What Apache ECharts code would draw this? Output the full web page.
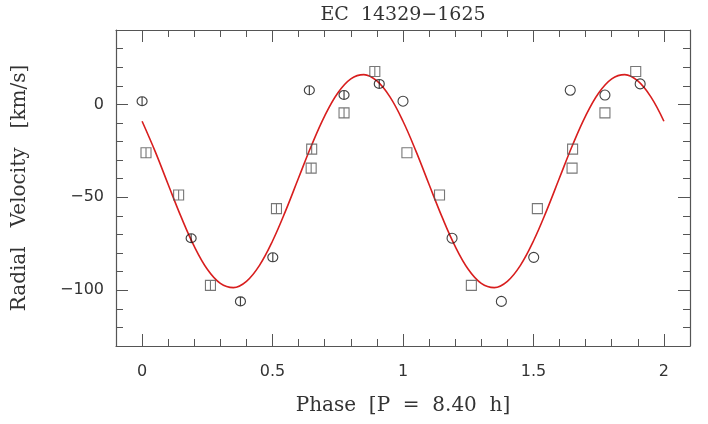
<!DOCTYPE html>
<html><head><meta charset="utf-8">
<script src="https://cdn.jsdelivr.net/npm/echarts@6/dist/echarts.min.js"></script>
<style>html,body{margin:0;padding:0;background:#fff}#c{width:708px;height:424px}</style>
</head><body><div id="c"></div>
<script>
const titleText = 'EC  14329\u22121625';
const xName = 'Phase  [P  =  8.40  h]';
const yName = 'Radial   Velocity   [km/s]';

// Observed points (first cycle, with error bars), phase 0..1
const circlePhase = [0.000, 0.188, 0.377, 0.501, 0.641, 0.774, 0.909];
const circleRV    = [1.7, -72.0, -106.0, -82.3, 7.6, 5.0, 11.0];
const squarePhase = [0.015, 0.140, 0.262, 0.515, 0.650, 0.648, 0.774, 0.892];
const squareRV    = [-26.0, -48.8, -97.4, -56.1, -24.1, -34.3, -4.6, 17.7];

// Fitted curve
const curvePhase = [0.00,0.05,0.10,0.15,0.20,0.25,0.30,0.35,0.40,0.45,0.50,0.55,0.60,0.65,0.70,0.75,0.80,0.85,0.90,0.95,
                    1.00,1.05,1.10,1.15,1.20,1.25,1.30,1.35,1.40,1.45,1.50,1.55,1.60,1.65,1.70,1.75,1.80,1.85,1.90,1.95,2.00];
const curveRV = [-9.1,-25.3,-43.1,-60.7,-76.4,-88.7,-96.3,-98.6,-95.2,-86.6,-73.5,-57.3,-39.5,-21.9,-6.2,6.1,13.7,16.0,12.6,4.0,
                 -9.1,-25.3,-43.1,-60.7,-76.4,-88.7,-96.3,-98.6,-95.2,-86.6,-73.5,-57.3,-39.5,-21.9,-6.2,6.1,13.7,16.0,12.6,4.0,-9.1];

const xTickLabels = [0, 0.5, 1, 1.5, 2];
const yTickLabels = [-100, -50, 0];

const zip = (a, b, off) => a.map((v, i) => [v + (off || 0), b[i]]);

const frameColor = '#555';
const circleErr = 'path://M10,0 A10,10 0 1,1 10,20 A10,10 0 1,1 10,0 Z M10,0 L10,20';
const squareErr = 'path://M0,0 L20,0 L20,20 L0,20 Z M10,0 L10,20';

function fmt(v) {
  return String(v).replace('-', '\u2212');
}

const common = {
  axisLine: { show: true, onZero: false, lineStyle: { color: frameColor, width: 1.2 } },
  axisTick: { show: true, inside: true, length: 12, lineStyle: { color: frameColor, width: 1 } },
  minorTick: { show: true, splitNumber: 5, length: 7, lineStyle: { color: frameColor, width: 1 } },
  splitLine: { show: false }
};

const xBase = Object.assign({ type: 'value', min: -0.1, max: 2.1, splitNumber: 5 }, common);
const yBase = Object.assign({ type: 'value', min: -130, max: 40, splitNumber: 3 }, common);

const chart = echarts.init(document.getElementById('c'), null, { renderer: 'canvas' });
chart.setOption({
  animation: false,
  backgroundColor: '#fff',
  grid: { left: 116, right: 18, top: 30, bottom: 78, containLabel: false, outerBoundsMode: 'none' },
  xAxis: [
    Object.assign({}, xBase, {
      position: 'bottom',
      name: xName, nameLocation: 'middle', nameGap: 50,
      nameTextStyle: { fontFamily: 'DejaVu Serif', fontSize: 20, color: '#333' },
      axisLabel: {
        show: true, margin: 18, showMinLabel: false, showMaxLabel: false,
        fontFamily: 'DejaVu Sans', fontSize: 16, color: '#333',
        formatter: v => (xTickLabels.indexOf(Math.round(v * 10) / 10) >= 0 ? fmt(Math.round(v * 10) / 10) : '')
      }
    }),
    Object.assign({}, xBase, {
      position: 'top',
      name: titleText, nameLocation: 'middle', nameGap: 5,
      nameTextStyle: { fontFamily: 'DejaVu Serif', fontSize: 19, color: '#333' },
      axisLabel: { show: false }
    })
  ],
  yAxis: [
    Object.assign({}, yBase, {
      position: 'left',
      name: yName, nameLocation: 'middle', nameGap: 86,
      nameTextStyle: { fontFamily: 'DejaVu Serif', fontSize: 20, color: '#333' },
      axisLabel: {
        show: true, margin: 12, showMinLabel: false, showMaxLabel: false,
        fontFamily: 'DejaVu Sans', fontSize: 16, color: '#333',
        formatter: v => (yTickLabels.indexOf(v) >= 0 ? fmt(v) : '')
      }
    }),
    Object.assign({}, yBase, {
      position: 'right',
      axisLabel: { show: false }
    })
  ],
  series: [
    {
      type: 'line', data: zip(curvePhase, curveRV), smooth: 0.4, symbol: 'none',
      lineStyle: { color: '#d81e1e', width: 1.6 }, z: 2, clip: true
    },
    {
      type: 'scatter', data: zip(circlePhase, circleRV), symbol: circleErr, symbolSize: [10, 9],
      itemStyle: { color: 'rgba(0,0,0,0)', borderColor: '#111', borderWidth: 1.1 }, z: 3
    },
    {
      type: 'scatter', data: zip(circlePhase, circleRV, 1), symbol: 'circle', symbolSize: 10,
      itemStyle: { color: 'rgba(0,0,0,0)', borderColor: '#111', borderWidth: 1.1 }, z: 3
    },
    {
      type: 'scatter', data: zip(squarePhase, squareRV), symbol: squareErr, symbolSize: 10,
      itemStyle: { color: 'rgba(0,0,0,0)', borderColor: '#555', borderWidth: 1.1 }, z: 3
    },
    {
      type: 'scatter', data: zip(squarePhase, squareRV, 1), symbol: 'rect', symbolSize: 10,
      itemStyle: { color: 'rgba(0,0,0,0)', borderColor: '#555', borderWidth: 1.1 }, z: 3
    }
  ]
});
</script>
</body></html>
